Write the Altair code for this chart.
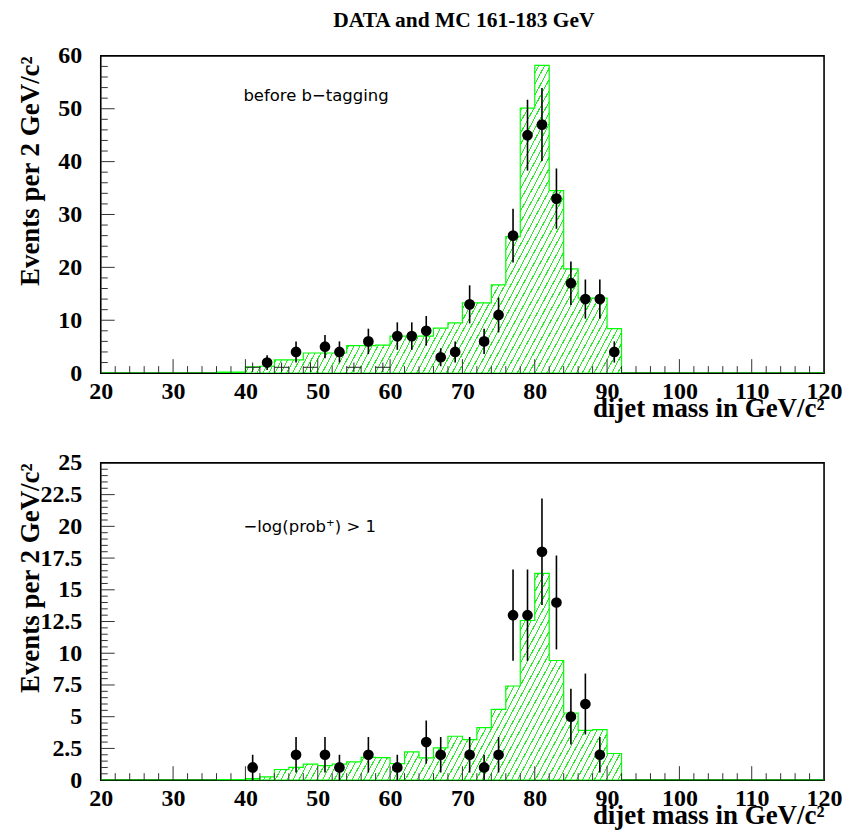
import math
import altair as alt
import pandas as pd

# ---------------- data ----------------
# MC histogram (2 GeV bins, left edges)
mc_lo = [36, 38, 40, 42, 44, 46, 48, 50, 52, 54, 56, 58, 60, 62, 64, 66, 68, 70,
         72, 74, 76, 78, 80, 82, 84, 86, 88, 90]
mc_top = [0.2, 0.2, 1.2, 1.3, 2.5, 2.5, 3.8, 3.8, 3.8, 5.2, 5.2, 5.3, 7.0, 7.0, 7.0,
          8.5, 9.5, 13.3, 13.3, 16.7, 25.8, 50.1, 58.2, 34.5, 19.7, 14.2, 14.2, 8.4]
mc_bot = [0.05, 0.05, 0.12, 0.26, 0.84, 1.0, 1.26, 1.15, 1.26, 1.44, 1.8, 1.78, 1.3,
          2.23, 1.75, 2.54, 3.46, 3.2, 4.14, 5.58, 7.42, 12.58, 16.3, 9.43, 5.29,
          3.93, 3.98, 2.1]

# data points (top: before b-tagging)
dt_x = [43, 47, 51, 53, 57, 61, 63, 65, 67, 69, 71, 73, 75, 77, 79, 81, 83, 85, 87, 89, 91]
dt_n = [2, 4, 5, 4, 6, 7, 7, 8, 3, 4, 13, 6, 11, 26, 45, 47, 33, 17, 14, 14, 4]
dt_e = [1.4, 2.0, 2.2, 2.0, 2.4, 2.6, 2.6, 2.8, 1.7, 2.0, 3.6, 2.4, 3.3, 5.1, 6.7,
        6.9, 5.7, 4.1, 3.7, 3.7, 2.0]
# empty data bins drawn as small crosses (top)
zero_x = [41, 45, 49, 55, 59]
zero_y = [1.1, 1.1, 1.1, 1.1, 1.1]
zero_e = [0.9, 0.9, 0.9, 0.9, 0.9]

# data points (bottom: -log(prob+) > 1)
db_x = [41, 47, 51, 53, 57, 61, 65, 67, 71, 73, 75, 77, 79, 81, 83, 85, 87, 89]
db_n = [1, 2, 2, 1, 2, 1, 3, 2, 2, 1, 2, 13, 13, 18, 14, 5, 6, 2]
db_e = [1.0, 1.4, 1.4, 1.0, 1.4, 1.0, 1.7, 1.4, 1.4, 1.0, 1.4, 3.6, 3.6, 4.2, 3.7,
        2.2, 2.4, 1.4]

x_labels = [20, 30, 40, 50, 60, 70, 80, 90, 100, 110, 120]
x_ticks = list(range(22, 120, 2))
y_top_labels = [0, 10, 20, 30, 40, 50, 60]
y_top_ticks = list(range(2, 60, 2))
y_bot_labels = [0, 2.5, 5, 7.5, 10, 12.5, 15, 17.5, 20, 22.5, 25]
y_bot_ticks = [i * 0.5 for i in range(1, 50)]

title_text = "DATA and MC 161-183 GeV"
ytitle = "Events per 2 GeV/c²"
xtitle = "dijet mass in GeV/c²"
note_top = "before b−tagging"
note_bot = "−log(prob⁺) > 1"

# ---------------- layout / style ----------------
W, H = 725, 318
PAD_L, PAD_R, PAD_T, PAD_B = 100, 22, 54, 58
SERIF = "Liberation Serif"
GREEN = "#00ff00"
HATCH = "#22ee22"


def hist_frame(vals):
    d = dict(zip(mc_lo, vals))
    edges = list(range(20, 120, 2))
    rows = [{"m": e, "v": d.get(e, 0.0)} for e in edges]
    rows.append({"m": 120, "v": 0.0})
    return pd.DataFrame(rows)


def hatch_fill(box_w, box_h, theta=62.0, spacing=5.2, lw=1.0):
    s, c = math.sin(math.radians(theta)), math.cos(math.radians(theta))
    r = box_h * c / (box_w * s)
    gx = (1 + r) / (1 + r * r)
    gy = r * gx
    D = box_w * s + box_h * c
    n = int(D / spacing)
    stops = []
    for k in range(n):
        a = k / n
        b = a + lw / D
        e = (k + 1) / n
        stops += [
            {"offset": a, "color": HATCH},
            {"offset": b, "color": HATCH},
            {"offset": b, "color": "#ffffff"},
            {"offset": e, "color": "#ffffff"},
        ]
    return {"gradient": "linear", "stops": stops, "x1": 0, "y1": 0, "x2": gx, "y2": gy}


def panel(mc_vals, ymax, ylabels, yticks, ymajor, px, pn, pe, note, is_top, crosses):
    xs = alt.Scale(domain=[20, 120], nice=False, zero=False)
    ys = alt.Scale(domain=[0, ymax], nice=False, zero=False)
    xaxis = alt.Axis(values=x_labels, title=xtitle, labelPadding=6, labelFlush=False,
                     labelOverlap=False, labelBound=False, titleX=W, titleY=43,
                     titleAlign="right", titleBaseline="alphabetic", titleAngle=0)
    yaxis = alt.Axis(values=ylabels, title=ytitle, labelPadding=19, labelOverlap=False,
                     labelFlush=False, labelBound=False, labelExpr="'' + datum.value",
                     titleX=-62, titleY=0, titleAngle=270, titleAlign="right",
                     titleBaseline="alphabetic")

    def X(f):
        return alt.X(f, type="quantitative", scale=xs, axis=xaxis)

    def Y(f):
        return alt.Y(f, type="quantitative", scale=ys, axis=yaxis)

    hdf = hist_frame(mc_vals)
    box_h = max(mc_vals) * H / ymax
    area = alt.Chart(hdf).mark_area(
        interpolate="step-after", fill=hatch_fill(W, box_h), stroke=GREEN,
        strokeWidth=1.2, clip=True
    ).encode(x=X("m"), y=Y("v"))

    # invisible frame fixing the overall extent of the page
    if is_top:
        gy1, gy2 = -PAD_T, H
    else:
        gy1, gy2 = 0, H + PAD_B
    guard = alt.Chart(pd.DataFrame({"g": [0]})).mark_rect(
        opacity=0, fillOpacity=0, strokeOpacity=0).encode(
        x=alt.value(-PAD_L), x2=alt.value(W + PAD_R),
        y=alt.value(gy1), y2=alt.value(gy2))

    tdf = pd.DataFrame({"t": x_ticks})
    tdf["major"] = tdf["t"] % 10 == 0
    xt_minor = alt.Chart(tdf).transform_filter("!datum.major").mark_rule(
        color="#333", strokeWidth=1).encode(
        x=X("t"), y=alt.value(H), y2=alt.value(H - 7))
    xt_major = alt.Chart(tdf).transform_filter("datum.major").mark_rule(
        color="#333", strokeWidth=1).encode(
        x=X("t"), y=alt.value(H), y2=alt.value(H - 14))

    ydf = pd.DataFrame({"t": yticks})
    ydf["major"] = [abs(v / ymajor - round(v / ymajor)) < 1e-6 for v in yticks]
    yt_minor = alt.Chart(ydf).transform_filter("!datum.major").mark_rule(
        color="#333", strokeWidth=1).encode(
        y=Y("t"), x=alt.value(0), x2=alt.value(7))
    yt_major = alt.Chart(ydf).transform_filter("datum.major").mark_rule(
        color="#333", strokeWidth=1).encode(
        y=Y("t"), x=alt.value(0), x2=alt.value(14))

    layers = [area, guard, xt_minor, xt_major, yt_minor, yt_major]

    if crosses:
        cdf = pd.DataFrame({"x": zero_x, "y": zero_y, "e": zero_e})
        cdf["xl"] = cdf["x"] - 1
        cdf["xh"] = cdf["x"] + 1
        cdf["yl"] = cdf["y"] - cdf["e"]
        cdf["yh"] = cdf["y"] + cdf["e"]
        ch = alt.Chart(cdf).mark_rule(color="#222", strokeWidth=1).encode(
            x=X("xl"), x2="xh:Q", y=Y("y"))
        cv = alt.Chart(cdf).mark_rule(color="#222", strokeWidth=1).encode(
            x=X("x"), y=Y("yl"), y2="yh:Q")
        layers += [ch, cv]

    pdf = pd.DataFrame({"x": px, "n": pn, "e": pe})
    pdf["lo"] = (pdf["n"] - pdf["e"]).clip(lower=0)
    pdf["hi"] = pdf["n"] + pdf["e"]
    err = alt.Chart(pdf).mark_rule(color="black", strokeWidth=1.6).encode(
        x=X("x"), y=Y("lo"), y2="hi:Q")
    pts = alt.Chart(pdf).mark_circle(color="black", opacity=1, size=115).encode(
        x=X("x"), y=Y("n"))
    layers += [err, pts]

    note_y = 45 if is_top else 69
    txt = alt.Chart(pd.DataFrame({"s": [note]})).mark_text(
        align="left", baseline="alphabetic", font="DejaVu Sans", fontSize=16.5,
        color="black").encode(text="s:N", x=alt.value(143), y=alt.value(note_y))
    layers.append(txt)

    if is_top:
        ttl = alt.Chart(pd.DataFrame({"s": [title_text]})).mark_text(
            align="center", baseline="alphabetic", font=SERIF, fontWeight="bold",
            fontSize=21.5, color="black").encode(
            text="s:N", x=alt.value(364), y=alt.value(-29))
        layers.append(ttl)

    return alt.layer(*layers).properties(width=W, height=H)


top = panel(mc_top, 60, y_top_labels, y_top_ticks, 10, dt_x, dt_n, dt_e, note_top, True, True)
bot = panel(mc_bot, 25, y_bot_labels, y_bot_ticks, 2.5, db_x, db_n, db_e, note_bot, False, False)

chart = alt.vconcat(top, bot, spacing=90, bounds="flush").properties(
    autosize=alt.AutoSizeParams(type="pad"),
    padding=0,
    background="white",
).configure_view(
    stroke="black", strokeWidth=1.6
).configure_axis(
    grid=False, ticks=False, domain=False,
    labelFont=SERIF, labelFontWeight="bold", labelFontSize=24, labelColor="black",
    titleFont=SERIF, titleFontWeight="bold", titleFontSize=27, titleColor="black",
)

chart.save("out.html", embed_options={"renderer": "svg", "actions": False})
